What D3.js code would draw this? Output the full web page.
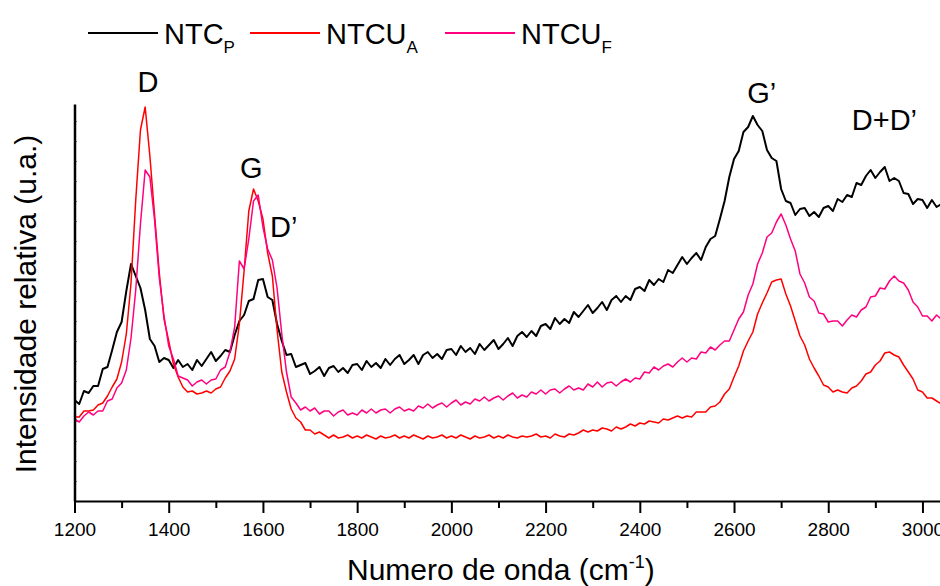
<!DOCTYPE html>
<html lang="pt">
<head>
    <meta charset="utf-8">
    <title>Raman</title>
    <script src="https://d3js.org/d3.v7.min.js" charset="utf-8"></script>
    <style type="text/css">
        body { margin: 0; background: #fff; }
        svg text { font-family: "Liberation Sans", Arial, sans-serif; fill: #000; }
        .axis path, .axis line { stroke: #000; }
    </style>
</head>
<body>
    <script type="text/javascript">
    // wavenumber grid, cm-1 (every 10 from 1200 to 3040)
    var wavenumbers = d3.range(1200, 3041, 10);

    // intensities (arbitrary units)
    var ntcP = [
        101, 97, 110, 108, 115, 115, 132, 134, 151, 169, 179, 210, 237, 225, 213, 191, 162, 155, 139, 143,
        141, 133, 141, 134, 137, 131, 141, 135, 142, 149, 140, 145, 151, 149, 166, 180, 186, 200, 202, 221,
        222, 204, 201, 177, 160, 146, 147, 134, 136, 138, 127, 130, 134, 125, 133, 135, 129, 133, 128, 136,
        137, 131, 140, 134, 138, 133, 142, 136, 142, 146, 137, 141, 146, 137, 146, 149, 143, 147, 142, 151,
        152, 146, 155, 149, 153, 147, 157, 151, 156, 161, 152, 157, 163, 155, 165, 169, 164, 170, 165, 175,
        177, 172, 183, 177, 182, 178, 189, 184, 190, 196, 188, 193, 199, 191, 201, 205, 199, 205, 201, 212,
        214, 210, 221, 216, 222, 219, 231, 228, 236, 244, 237, 243, 248, 241, 254, 262, 265, 282, 300, 324,
        342, 350, 369, 374, 385, 376, 370, 351, 343, 340, 312, 300, 298, 286, 292, 293, 285, 289, 284, 293,
        295, 290, 302, 299, 306, 304, 318, 316, 325, 331, 323, 329, 334, 320, 323, 320, 308, 307, 297, 302,
        301, 293, 301, 294, 297
    ];
    var ntcuA = [
        84, 84, 90, 90, 91, 96, 98, 105, 114, 122, 139, 167, 218, 301, 371, 394, 345, 286, 228, 182,
        160, 137, 124, 114, 109, 110, 107, 108, 110, 108, 112, 114, 123, 130, 142, 177, 230, 290, 312, 300,
        282, 248, 225, 171, 129, 109, 92, 83, 79, 71, 71, 67, 69, 66, 63, 66, 63, 64, 66, 63,
        65, 63, 66, 64, 62, 65, 63, 64, 66, 63, 65, 63, 66, 64, 62, 65, 63, 64, 66, 63,
        65, 63, 66, 64, 62, 65, 63, 64, 66, 63, 65, 63, 66, 64, 63, 65, 64, 65, 67, 64,
        65, 63, 67, 65, 64, 67, 66, 68, 71, 69, 71, 70, 73, 72, 70, 74, 72, 74, 77, 75,
        78, 77, 80, 79, 78, 82, 81, 83, 85, 83, 85, 84, 89, 89, 89, 94, 95, 99, 107, 112,
        124, 135, 150, 160, 169, 187, 198, 208, 219, 221, 222, 207, 195, 180, 165, 156, 142, 133, 125, 116,
        114, 109, 111, 109, 108, 113, 115, 120, 127, 129, 136, 140, 148, 149, 146, 144, 136, 129, 122, 111,
        109, 103, 103, 100, 97
    ];
    var ntcuF = [
        82, 79, 85, 89, 86, 90, 90, 100, 102, 113, 118, 131, 163, 211, 277, 331, 324, 281, 223, 185,
        155, 142, 125, 123, 121, 115, 119, 121, 117, 121, 122, 131, 134, 149, 174, 240, 232, 262, 300, 306,
        274, 252, 241, 213, 167, 129, 104, 98, 91, 94, 90, 93, 87, 90, 90, 85, 89, 91, 86, 88,
        86, 91, 88, 92, 88, 91, 92, 88, 92, 94, 90, 92, 90, 95, 93, 97, 93, 96, 98, 94,
        98, 101, 96, 99, 97, 102, 100, 104, 100, 103, 105, 101, 105, 108, 103, 106, 104, 109, 107, 111,
        107, 111, 112, 108, 112, 115, 111, 113, 111, 117, 114, 119, 114, 118, 119, 115, 119, 122, 119, 123,
        122, 129, 128, 134, 131, 135, 137, 134, 139, 143, 139, 143, 142, 149, 148, 154, 151, 156, 160, 160,
        171, 182, 189, 206, 217, 237, 248, 264, 268, 279, 287, 276, 262, 250, 227, 218, 204, 200, 188, 187,
        179, 180, 180, 175, 181, 186, 184, 191, 194, 204, 205, 213, 212, 220, 225, 220, 218, 211, 199, 194,
        185, 185, 180, 186, 182
    ];

    var seriesNames = ["NTC", "NTCU", "NTCU"];
    var seriesSubs = ["P", "A", "F"];
    var seriesColors = ["#000000", "#ff0000", "#ff0080"];
    var xMajorTicks = d3.range(1200, 3001, 200);
    var xMinorTicks = d3.range(1300, 3001, 200);
    var peakLabels = [
        { text: "D", wn: 1356, v: 409, anchor: "middle" },
        { text: "G", wn: 1575, v: 323, anchor: "middle" },
        { text: "D\u2019", wn: 1615, v: 264, anchor: "start" },
        { text: "G\u2019", wn: 2628, v: 398, anchor: "start" },
        { text: "D+D\u2019", wn: 2850, v: 371, anchor: "start" }
    ];

    var width = 940, height = 586;
    var svg = d3.select("body").append("svg")
        .attr("width", width)
        .attr("height", height);

    var x = d3.scaleLinear().domain([1200, 3040]).range([74.5, 941.3]);
    var y = d3.scaleLinear().domain([0, 397]).range([501, 104]);

    svg.append("clipPath").attr("id", "plot")
        .append("rect").attr("x", 74.5).attr("y", 0).attr("width", 870).attr("height", 501);

    // spectra
    var data = [ntcP, ntcuA, ntcuF];
    var line = d3.line()
        .x(function (d, i) { return x(wavenumbers[i]); })
        .y(function (d) { return y(d); });

    svg.append("g").attr("clip-path", "url(#plot)")
        .selectAll("path")
        .data(data)
        .enter()
        .append("path")
        .attr("d", line)
        .attr("fill", "none")
        .attr("stroke", function (d, i) { return seriesColors[i]; })
        .attr("stroke-width", function (d, i) { return i == 0 ? 2 : 1.5; })
        .attr("stroke-linejoin", "round");

    // x axis
    var xAxis = svg.append("g")
        .attr("class", "axis")
        .attr("transform", "translate(0,501)")
        .call(d3.axisBottom(x).tickValues(xMajorTicks).tickSize(12).tickSizeOuter(0).tickPadding(10)
            .tickFormat(d3.format("d")));
    xAxis.select(".domain").attr("stroke-width", 2);
    xAxis.selectAll(".tick line").attr("stroke-width", 2);
    xAxis.selectAll("text").attr("font-size", "19px").style("font-family", "'Liberation Sans', Arial, sans-serif");

    var xMinor = svg.append("g")
        .attr("class", "axis")
        .attr("transform", "translate(0,501)")
        .call(d3.axisBottom(x).tickValues(xMinorTicks).tickSize(7).tickFormat(""));
    xMinor.select(".domain").remove();
    xMinor.selectAll(".tick line").attr("stroke-width", 2);

    // y axis, no labels
    var yAxis = svg.append("g")
        .attr("class", "axis")
        .attr("transform", "translate(74.5,0)")
        .call(d3.axisLeft(y).ticks(20).tickSize(-2).tickSizeOuter(0).tickFormat(""));
    yAxis.select(".domain").attr("stroke-width", 2.5);

    // axis titles
    var xt = svg.append("text")
        .attr("x", 347).attr("y", 580)
        .attr("font-size", "30px");
    xt.append("tspan").text("Numero de onda (cm");
    xt.append("tspan").attr("font-size", "18px").attr("dy", -12).text("-1");
    xt.append("tspan").attr("dy", 12).text(")");

    svg.append("text")
        .attr("transform", "translate(36,304) rotate(-90)")
        .attr("text-anchor", "middle")
        .attr("font-size", "30px")
        .text("Intensidade relativa (u.a.)");

    // peak labels
    svg.selectAll(".peak")
        .data(peakLabels)
        .enter()
        .append("text")
        .attr("class", "peak")
        .attr("x", function (d) { return x(d.wn); })
        .attr("y", function (d) { return y(d.v); })
        .attr("text-anchor", function (d) { return d.anchor; })
        .attr("font-size", "29px")
        .text(function (d) { return d.text; });

    // legend
    var legendX = [88, 250, 445];
    var legend = svg.selectAll(".legend")
        .data(seriesNames)
        .enter()
        .append("g")
        .attr("class", "legend")
        .attr("transform", function (d, i) { return "translate(" + legendX[i] + ",33)"; });
    legend.append("line")
        .attr("x1", 0).attr("x2", 70)
        .attr("stroke", function (d, i) { return seriesColors[i]; })
        .attr("stroke-width", 2);
    var lt = legend.append("text")
        .attr("x", 76).attr("y", 11)
        .attr("font-size", "29px");
    lt.append("tspan").text(function (d) { return d; });
    lt.append("tspan").attr("font-size", "17px").attr("dy", 9)
        .text(function (d, i) { return seriesSubs[i]; });
    </script>
</body>
</html>
